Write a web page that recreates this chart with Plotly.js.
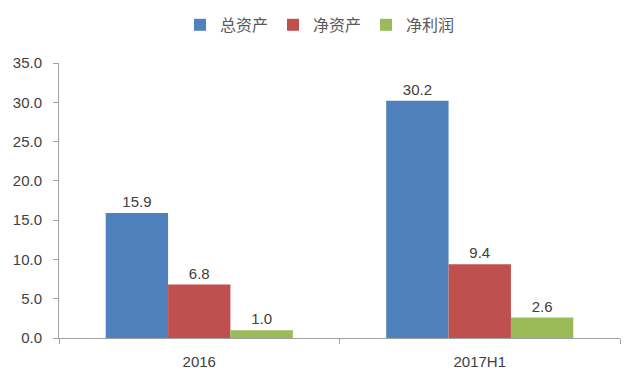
<!DOCTYPE html>
<html>
<head>
<meta charset="utf-8">
<script src="https://cdn.plot.ly/plotly-3.0.1.min.js"></script>
<style>html,body{margin:0;padding:0;background:#fff;}#chart{width:640px;height:383px;}</style>
</head>
<body>
<div id="chart"></div>
<script>
const categories = ["2016", "2017H1"];
const seriesNames = ["总资产", "净资产", "净利润"];
const totalAssets = [15.9, 30.2];
const netAssets = [6.8, 9.4];
const netProfit = [1.0, 2.6];
const yTicks = [0, 5, 10, 15, 20, 25, 30, 35];

const colors = ["#4F81BD", "#C0504D", "#9BBB59"];
const values = [totalAssets, netAssets, netProfit];

const traces = values.map((v, i) => ({
  type: "bar",
  name: seriesNames[i],
  x: categories,
  y: v,
  marker: {color: colors[i]},
  text: v.map(d => d.toFixed(1)),
  textposition: "outside",
  constraintext: "none",
  cliponaxis: false,
  textfont: {family: "Liberation Sans, Arial, sans-serif", size: 15, color: "#404040"},
  hoverinfo: "skip"
}));

const layout = {
  width: 640,
  height: 383,
  margin: {l: 59, r: 20, t: 63, b: 45, autoexpand: false},
  paper_bgcolor: "#ffffff",
  plot_bgcolor: "#ffffff",
  barmode: "group",
  bargap: 0.333,
  bargroupgap: 0,
  font: {family: "Liberation Sans, Arial, sans-serif", size: 15, color: "#404040"},
  showlegend: true,
  legend: {
    orientation: "h",
    xref: "container",
    yref: "container",
    x: 0.5,
    xanchor: "center",
    y: 0.935,
    yanchor: "middle",
    font: {family: "Noto Sans CJK SC, sans-serif", size: 16, color: "#595959"},
    traceorder: "normal"
  },
  xaxis: {
    type: "category",
    showline: true,
    linecolor: "#A0A0A0",
    linewidth: 1,
    ticks: "outside",
    tickson: "boundaries",
    ticklen: 5,
    tickcolor: "#A0A0A0",
    showgrid: false,
    zeroline: false,
    ticklabelstandoff: 10,
    tickfont: {size: 15, color: "#404040"}
  },
  yaxis: {
    range: [0, 35],
    tickvals: yTicks,
    ticktext: yTicks.map(t => t.toFixed(1)),
    showline: true,
    linecolor: "#A0A0A0",
    linewidth: 1,
    ticks: "outside",
    ticklen: 5,
    tickcolor: "#A0A0A0",
    showgrid: false,
    zeroline: false,
    ticklabelstandoff: 8,
    tickfont: {size: 15, color: "#404040"}
  }
};

Plotly.newPlot("chart", traces, layout, {displayModeBar: false, staticPlot: true});
</script>
</body>
</html>
